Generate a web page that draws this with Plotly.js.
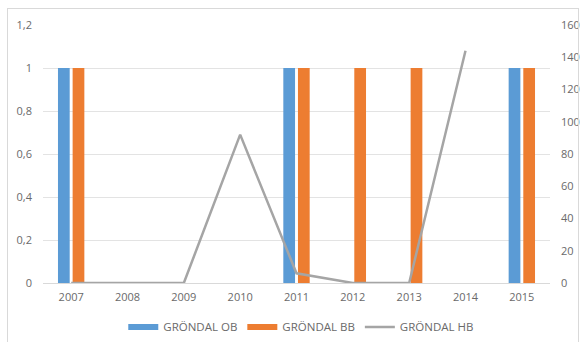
<!DOCTYPE html>
<html><head><meta charset="utf-8">
<script src="https://cdn.plot.ly/plotly-3.0.1.min.js"></script>
<style>
body{margin:0;background:#fff;}
#wrap{position:relative;width:585px;height:342px;}
#frame{position:absolute;left:7px;top:8px;width:572px;height:340px;border:1px solid #d9d9d9;box-sizing:border-box;pointer-events:none;}
#chart{position:absolute;left:0;top:0;width:585px;height:342px;}
</style></head>
<body><div id="wrap"><div id="chart"></div><div id="frame"></div></div>
<script>
const years = ['2007','2008','2009','2010','2011','2012','2013','2014','2015'];
const obValues = [1, null, null, null, 1, null, null, null, 1];
const bbValues = [1, null, null, null, 1, 1, 1, null, 1];
const hbValues = [0, 0, 0, 92, 6, 0, 0, 144, null];
const seriesNames = ['GRÖNDAL OB', 'GRÖNDAL BB', 'GRÖNDAL HB'];
const leftTicks = [0, 0.2, 0.4, 0.6, 0.8, 1, 1.2];
const rightTicks = [0, 20, 40, 60, 80, 100, 120, 140, 160];

const blue = '#5b9bd5', orange = '#ed7d31', grey = '#a5a5a5';
const txt = '#6a6a6a';
const traces = [
  {type:'bar', x:years, y:obValues, name:seriesNames[0], marker:{color:blue}, showlegend:false, hoverinfo:'none'},
  {type:'bar', x:years, y:bbValues, name:seriesNames[1], marker:{color:orange}, showlegend:false, hoverinfo:'none'},
  {type:'scatter', mode:'lines', x:years, y:hbValues, yaxis:'y2', name:seriesNames[2], line:{color:grey, width:2.5}, showlegend:false, connectgaps:false, hoverinfo:'none'},
  {type:'scatter', mode:'lines', x:[null], y:[null], name:seriesNames[0], line:{color:blue, width:6}},
  {type:'scatter', mode:'lines', x:[null], y:[null], name:seriesNames[1], line:{color:orange, width:6}},
  {type:'scatter', mode:'lines', x:[null], y:[null], name:seriesNames[2], line:{color:grey, width:2.5}}
];
const layout = {
  width:585, height:342,
  margin:{l:43, r:35, t:25, b:59},
  paper_bgcolor:'rgba(0,0,0,0)', plot_bgcolor:'rgba(0,0,0,0)',
  separators:', ',
  font:{family:'Open Sans, sans-serif', size:11, color:txt},
  barmode:'group', bargap:0.48, bargroupgap:0.2,
  xaxis:{type:'category', showgrid:false, showline:false, zeroline:false, ticks:'', ticklabelstandoff:6, tickfont:{size:11, color:txt}},
  yaxis:{range:[0,1.2], tickvals:leftTicks, showgrid:true, gridcolor:'#e3e3e3', gridwidth:1, zeroline:true, zerolinecolor:'#d9d9d9', showline:false, ticks:'', ticklabelstandoff:10, tickfont:{size:11, color:txt}},
  yaxis2:{range:[0,160], tickvals:rightTicks, overlaying:'y', side:'right', showgrid:false, zeroline:false, showline:false, ticks:'', ticklabelstandoff:10, tickfont:{size:11, color:txt}},
  legend:{orientation:'h', x:0.515, xref:'container', xanchor:'center', y:0.044, yref:'container', yanchor:'middle', font:{size:11.5, color:txt}, itemwidth:30, traceorder:'normal'}
};
Plotly.newPlot('chart', traces, layout, {staticPlot:true});
</script></body></html>
